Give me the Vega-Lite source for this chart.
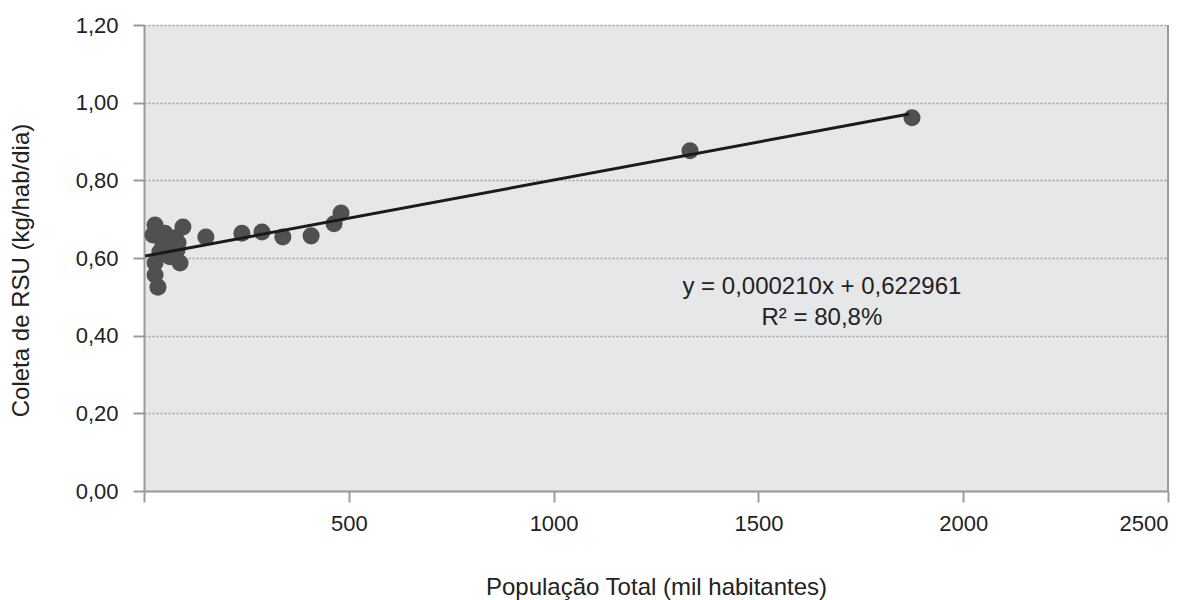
{
  "$schema": "https://vega.github.io/schema/vega-lite/v6.json",
  "width": 1024,
  "height": 466,
  "autosize": {"type": "none"},
  "padding": {"left": 144, "top": 25, "right": 28, "bottom": 109},
  "background": "white",
  "config": {
    "font": "Liberation Sans",
    "view": {"fill": "#e6e7e8", "stroke": null}
  },
  "datasets": {
    "pts": [
      {"pop": 27, "col": 0.685},
      {"pop": 95, "col": 0.680},
      {"pop": 22, "col": 0.659},
      {"pop": 56, "col": 0.639},
      {"pop": 39, "col": 0.616},
      {"pop": 81, "col": 0.621},
      {"pop": 88, "col": 0.587},
      {"pop": 27, "col": 0.587},
      {"pop": 27, "col": 0.556},
      {"pop": 34, "col": 0.525},
      {"pop": 63, "col": 0.603},
      {"pop": 76, "col": 0.652},
      {"pop": 46, "col": 0.639},
      {"pop": 83, "col": 0.639},
      {"pop": 51, "col": 0.664},
      {"pop": 151, "col": 0.654},
      {"pop": 239, "col": 0.664},
      {"pop": 288, "col": 0.667},
      {"pop": 339, "col": 0.654},
      {"pop": 408, "col": 0.657},
      {"pop": 464, "col": 0.688},
      {"pop": 481, "col": 0.716},
      {"pop": 1333, "col": 0.876},
      {"pop": 1875, "col": 0.961}
    ],
    "fit": [
      {"pop": 3, "col": 0.605},
      {"pop": 1868, "col": 0.971}
    ],
    "eq": [
      {"pop": 1655, "col": 0.525, "txt": "y = 0,000210x + 0,622961"},
      {"pop": 1655, "col": 0.446, "txt": "R² = 80,8%"}
    ]
  },
  "layer": [
    {
      "data": {"name": "pts"},
      "mark": {"type": "point", "filled": true, "shape": "circle", "size": 290, "color": "#505050", "opacity": 1},
      "encoding": {
        "x": {
          "field": "pop", "type": "quantitative",
          "scale": {"domain": [0, 2500], "nice": false},
          "axis": {
            "values": [0, 500, 1000, 1500, 2000, 2500],
            "labelExpr": "datum.value == 0 ? '' : format(datum.value, 'd')",
            "title": "População Total (mil habitantes)",
            "titleFontSize": 24, "titleFontWeight": "normal", "titleColor": "#222",
            "titlePadding": 41,
            "labelFontSize": 22, "labelColor": "#222", "labelPadding": 11,
            "domainColor": "#9a9a9a", "domainWidth": 2,
            "tickColor": "#9a9a9a", "tickWidth": 2, "tickSize": 11,
            "grid": false
          }
        },
        "y": {
          "field": "col", "type": "quantitative",
          "scale": {"domain": [0, 1.2], "nice": false},
          "axis": {
            "values": [0, 0.2, 0.4, 0.6, 0.8, 1.0, 1.2],
            "labelExpr": "replace(format(datum.value, '.2f'), '.', ',')",
            "title": "Coleta de RSU (kg/hab/dia)",
            "titleFontSize": 24, "titleFontWeight": "normal", "titleColor": "#222",
            "titlePadding": 42, "titleY": 245,
            "labelFontSize": 22, "labelColor": "#222", "labelPadding": 15,
            "domainColor": "#9a9a9a", "domainWidth": 2,
            "tickColor": "#9a9a9a", "tickWidth": 2, "tickSize": 11,
            "grid": true, "gridColor": "#a0a0a0", "gridDash": [2, 2], "gridWidth": 1.5
          }
        }
      }
    },
    {
      "data": {"name": "fit"},
      "mark": {"type": "line", "color": "#1a1a1a", "strokeWidth": 3},
      "encoding": {
        "x": {"field": "pop", "type": "quantitative"},
        "y": {"field": "col", "type": "quantitative"}
      }
    },
    {
      "data": {"values": [{"edge": 2500}]},
      "mark": {"type": "rule", "color": "#9a9a9a", "strokeWidth": 2},
      "encoding": {
        "x": {"field": "edge", "type": "quantitative"}
      }
    },
    {
      "data": {"name": "eq"},
      "mark": {"type": "text", "fontSize": 24, "color": "#222", "align": "center", "baseline": "middle"},
      "encoding": {
        "x": {"field": "pop", "type": "quantitative"},
        "y": {"field": "col", "type": "quantitative"},
        "text": {"field": "txt"}
      }
    }
  ]
}
